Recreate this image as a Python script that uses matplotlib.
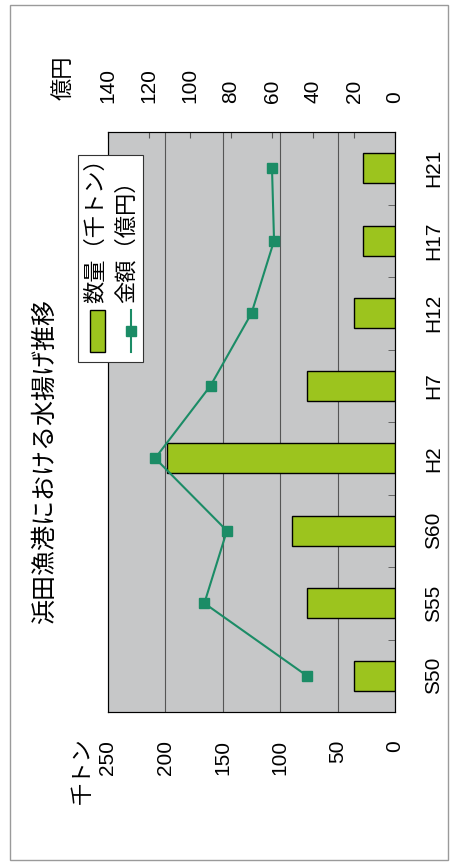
import numpy as np
import matplotlib
matplotlib.use("Agg")
import matplotlib.pyplot as plt
from matplotlib.patches import Rectangle
from matplotlib.lines import Line2D

plt.rcParams['font.family'] = ['Liberation Sans', 'Noto Sans CJK JP']
JP = ['Noto Sans CJK JP', 'DejaVu Sans']

# data (bottom -> top in the rotated picture)
years = ['S50', 'S55', 'S60', 'H2', 'H7', 'H12', 'H17', 'H21']
qty = [36, 77, 90, 199, 77, 36, 28, 28]          # 千トン
amount = [43, 93, 82, 117, 90, 70, 59, 60]       # 億円
qty_ticks = [0, 50, 100, 150, 200, 250]
amt_ticks = [0, 20, 40, 60, 80, 100, 120, 140]

W, H = 452, 867
def fx(px): return px / W
def fy(py): return 1 - py / H

fig = plt.figure(figsize=(W / 100, H / 100), dpi=100)
ax = fig.add_axes([fx(108), fy(712), (395 - 108) / W, (712 - 132) / H])
ax.set_facecolor('#c6c7c8')

y = np.arange(len(years))
ax.barh(y, qty, height=0.42, color='#9cc41e', edgecolor='black', linewidth=1.0, zorder=3)
ax.set_xlim(250, 0)
ax.set_ylim(-0.5, len(years) - 0.5)
ax.set_xticks(qty_ticks)
ax.set_xticklabels([str(v) for v in qty_ticks], rotation=90)
ax.xaxis.grid(True, color='#555555', linewidth=0.8)
ax.set_axisbelow(True)
ax.tick_params(axis='x', length=0, pad=20, labelsize=15)
ax.yaxis.tick_right()
ax.set_yticks(y)
ax.set_yticklabels(years, rotation=90, va='center')
ax.set_yticks(np.arange(len(years) + 1) - 0.5, minor=True)
ax.tick_params(axis='y', which='major', length=0, pad=21, labelsize=15)
ax.tick_params(axis='y', which='minor', direction='in', length=5, color='#555555')
for s in ax.spines.values():
    s.set_color('#444444')

ax2 = ax.twiny()
ax2.plot(amount, y, '-s', color='#1b8c66', markersize=7, linewidth=1.5, zorder=4)
ax2.set_xlim(140, 0)
ax2.set_xticks(amt_ticks)
ax2.set_xticklabels([str(v) for v in amt_ticks], rotation=90)
ax2.tick_params(axis='x', direction='in', length=4, color='#555555', pad=21, labelsize=15)

# axis unit labels
fig.text(fx(82), fy(771), '千トン', family=JP, fontsize=16, rotation=90, ha='center', va='center')
fig.text(fx(63), fy(78), '億円', family=JP, fontsize=16, rotation=90, ha='center', va='center')

# title
fig.text(fx(45), fy(462), '浜田漁港における水揚げ推移', family=JP, fontsize=18,
         rotation=90, ha='center', va='center')

# legend (rotated, drawn by hand)
fig.add_artist(Rectangle((fx(78), fy(362)), (143 - 78) / W, (362 - 155) / H,
                         transform=fig.transFigure, facecolor='white',
                         edgecolor='#333333', linewidth=0.8, zorder=5))
fig.add_artist(Rectangle((fx(90), fy(352)), (105 - 90) / W, (352 - 310) / H,
                         transform=fig.transFigure, facecolor='#9cc41e',
                         edgecolor='black', linewidth=1.0, zorder=6))
fig.add_artist(Line2D([fx(131), fx(131)], [fy(352), fy(310)], transform=fig.transFigure,
                      color='#1b8c66', linewidth=1.5, zorder=6))
fig.add_artist(Line2D([fx(131)], [fy(331)], transform=fig.transFigure, marker='s',
                      markersize=7, color='#1b8c66', zorder=7))
fig.text(fx(96), fy(303), '数量（千トン）', family=JP, fontsize=16, rotation=90,
         ha='center', va='bottom', zorder=7)
fig.text(fx(126), fy(303), '金額（億円）', family=JP, fontsize=16, rotation=90,
         ha='center', va='bottom', zorder=7)

# outer frame
fig.add_artist(Rectangle((fx(10), fy(860)), (448 - 10) / W, (860 - 5) / H,
                         transform=fig.transFigure, facecolor='none',
                         edgecolor='#9a9a9a', linewidth=1.0))

fig.savefig('out.png', dpi=100)
